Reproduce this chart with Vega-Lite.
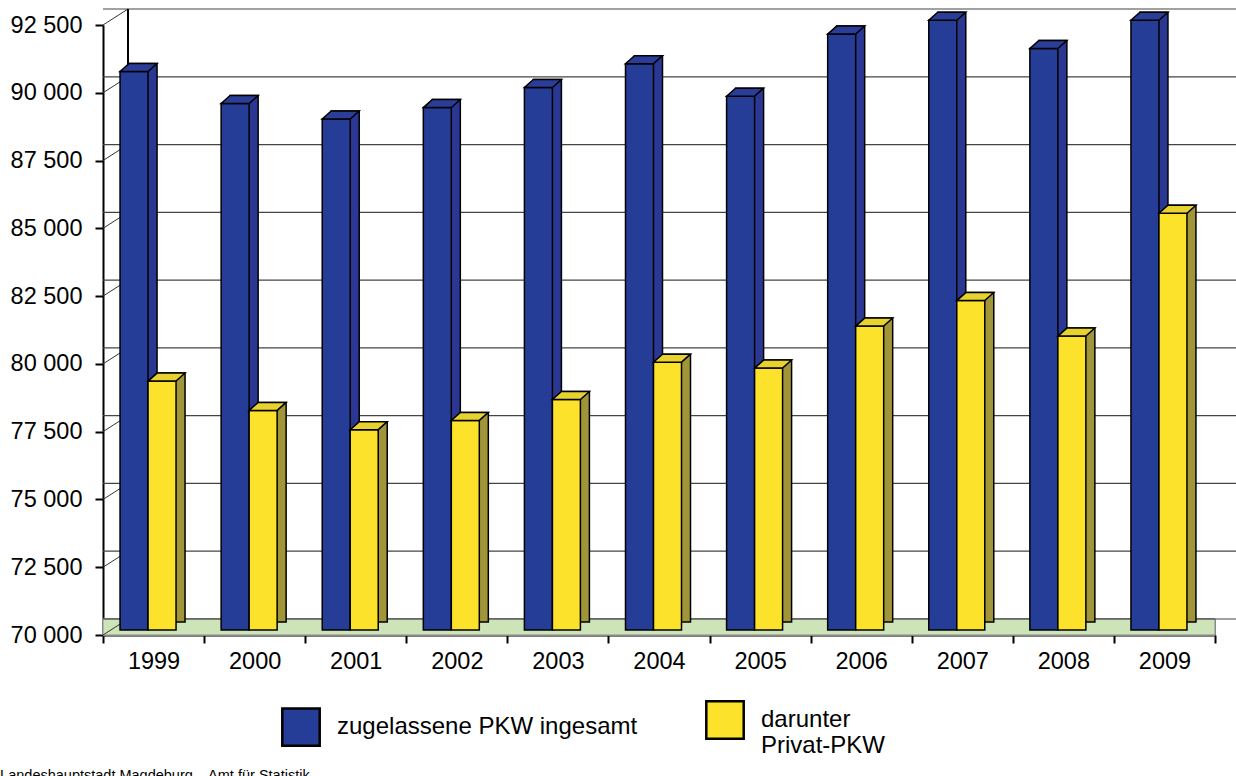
{
  "$schema": "https://vega.github.io/schema/vega-lite/v6.json",
  "width": 1112,
  "height": 610,
  "autosize": {"type": "none"},
  "padding": {"left": 103, "top": 25, "right": 21, "bottom": 141},
  "background": "white",
  "config": {
    "view": {"stroke": null},
    "font": "Liberation Sans",
    "axis": {"labelFont": "Liberation Sans", "labelColor": "black", "tickColor": "black", "domainColor": "black"}
  },
  "title": {
    "text": "Landeshauptstadt Magdeburg – Amt für Statistik",
    "orient": "bottom",
    "anchor": "start",
    "fontSize": 14.5,
    "fontWeight": "normal",
    "font": "Liberation Sans",
    "color": "black",
    "dx": -10,
    "offset": 11
  },
  "datasets": {
    "pkw": [
      {"year": "1999", "series": "zugelassene PKW ingesamt", "value": 90600},
      {"year": "2000", "series": "zugelassene PKW ingesamt", "value": 89420},
      {"year": "2001", "series": "zugelassene PKW ingesamt", "value": 88850},
      {"year": "2002", "series": "zugelassene PKW ingesamt", "value": 89270},
      {"year": "2003", "series": "zugelassene PKW ingesamt", "value": 90010},
      {"year": "2004", "series": "zugelassene PKW ingesamt", "value": 90890},
      {"year": "2005", "series": "zugelassene PKW ingesamt", "value": 89690},
      {"year": "2006", "series": "zugelassene PKW ingesamt", "value": 91980},
      {"year": "2007", "series": "zugelassene PKW ingesamt", "value": 92490},
      {"year": "2008", "series": "zugelassene PKW ingesamt", "value": 91450},
      {"year": "2009", "series": "zugelassene PKW ingesamt", "value": 92490},
      {"year": "1999", "series": "darunter Privat-PKW", "value": 79180},
      {"year": "2000", "series": "darunter Privat-PKW", "value": 78100},
      {"year": "2001", "series": "darunter Privat-PKW", "value": 77390},
      {"year": "2002", "series": "darunter Privat-PKW", "value": 77730},
      {"year": "2003", "series": "darunter Privat-PKW", "value": 78500},
      {"year": "2004", "series": "darunter Privat-PKW", "value": 79880},
      {"year": "2005", "series": "darunter Privat-PKW", "value": 79660},
      {"year": "2006", "series": "darunter Privat-PKW", "value": 81210},
      {"year": "2007", "series": "darunter Privat-PKW", "value": 82150},
      {"year": "2008", "series": "darunter Privat-PKW", "value": 80840},
      {"year": "2009", "series": "darunter Privat-PKW", "value": 85370}
    ],
    "grid": [
      {"v": 70000}, {"v": 72500}, {"v": 75000}, {"v": 77500}, {"v": 80000},
      {"v": 82500}, {"v": 85000}, {"v": 87500}, {"v": 90000}, {"v": 92500}
    ]
  },
  "data": {"name": "pkw"},
  "layer": [
    {
      "mark": {"type": "rect", "fill": "#CCE4B8", "stroke": "#8a8a8a", "strokeWidth": 1, "x2Offset": 10},
      "encoding": {
        "y": {"datum": 70000, "type": "quantitative", "title": null},
        "y2": {"datum": 70590}
      }
    },
    {
      "data": {"name": "grid"},
      "mark": {"type": "rule", "color": "#444444", "strokeWidth": 1.2, "xOffset": 25, "x2Offset": 130, "yOffset": -16},
      "encoding": {
        "y": {"field": "v", "type": "quantitative", "title": null}
      }
    },
    {
      "data": {"name": "grid"},
      "mark": {"type": "rule", "color": "#333333", "strokeWidth": 1, "x2Offset": -25.5, "y2Offset": -16},
      "encoding": {
        "x": {"datum": "1999", "type": "nominal", "bandPosition": 0, "title": null},
        "x2": {"datum": "1999"},
        "y": {"field": "v", "type": "quantitative", "title": null},
        "y2": {"field": "v"}
      }
    },
    {
      "mark": {"type": "rule", "color": "black", "strokeWidth": 1.5, "xOffset": 25, "yOffset": -16, "y2Offset": -16},
      "encoding": {
        "x": {"datum": "1999", "type": "nominal", "bandPosition": 0, "title": null},
        "y": {"datum": 70000, "type": "quantitative", "title": null},
        "y2": {"datum": 92500}
      }
    },
    {
      "transform": [{"filter": "datum.series == 'zugelassene PKW ingesamt'"}],
      "mark": {"type": "bar", "width": 28, "fill": "#2B3893", "stroke": "black", "strokeWidth": 1.5, "xOffset": -10.5, "yOffset": -13, "y2Offset": -13},
      "encoding": {
        "x": {"field": "year", "type": "nominal", "title": null},
        "y": {"field": "value", "type": "quantitative", "title": null},
        "y2": {"datum": 70000}
      }
    },
    {
      "transform": [{"filter": "datum.series == 'zugelassene PKW ingesamt'"}],
      "mark": {"type": "bar", "width": 28, "stroke": "black", "strokeWidth": 1.5, "xOffset": -19.5, "yOffset": -5, "y2Offset": -5},
      "encoding": {
        "x": {
          "field": "year", "type": "nominal", "title": null,
          "scale": {"paddingInner": 0, "paddingOuter": 0},
          "axis": {"labelAngle": 0, "labelAlign": "center", "tickBand": "extent", "labelFontSize": 23.5, "tickSize": 8, "tickWidth": 2, "domainWidth": 2, "labelPadding": 18, "grid": false}
        },
        "y": {
          "field": "value", "type": "quantitative", "title": null,
          "scale": {"domain": [70000, 92500], "zero": false, "nice": false},
          "axis": {
            "values": [70000, 72500, 75000, 77500, 80000, 82500, 85000, 87500, 90000, 92500],
            "labelExpr": "replace(format(datum.value, ','), ',', ' ')",
            "labelFontSize": 23.5, "tickSize": 8, "tickWidth": 2, "domainWidth": 2, "labelPadding": 13, "grid": false
          }
        },
        "y2": {"datum": 70000},
        "fill": {
          "field": "series", "type": "nominal",
          "scale": {"domain": ["zugelassene PKW ingesamt", "darunter Privat-PKW"], "range": ["#253D96", "#FCE22B"]},
          "legend": {
            "orient": "none", "legendX": 178, "legendY": 675, "direction": "horizontal", "title": null,
            "symbolType": "square", "symbolSize": 1400, "symbolStrokeColor": "black", "symbolStrokeWidth": 2.5,
            "labelFontSize": 24, "labelFont": "Liberation Sans", "labelColor": "black", "labelOffset": 16,
            "columnPadding": 63, "labelLimit": 0, "padding": 0,
            "labelExpr": "datum.label == 'darunter Privat-PKW' ? ['darunter', 'Privat-PKW'] : datum.label"
          }
        }
      }
    },
    {
      "transform": [{"filter": "datum.series == 'zugelassene PKW ingesamt'"}],
      "mark": {"type": "point", "shape": "M-14,0L14,0L23,-8L-5,-8Z", "size": 4, "filled": true, "opacity": 1, "fill": "#2A3E98", "stroke": "black", "strokeWidth": 1.5, "xOffset": -19.5, "yOffset": -5},
      "encoding": {
        "x": {"field": "year", "type": "nominal", "title": null},
        "y": {"field": "value", "type": "quantitative", "title": null}
      }
    },
    {
      "transform": [{"filter": "datum.series == 'darunter Privat-PKW'"}],
      "mark": {"type": "bar", "width": 28, "fill": "#A1953A", "stroke": "black", "strokeWidth": 1.5, "xOffset": 17.5, "yOffset": -13, "y2Offset": -13},
      "encoding": {
        "x": {"field": "year", "type": "nominal", "title": null},
        "y": {"field": "value", "type": "quantitative", "title": null},
        "y2": {"datum": 70000}
      }
    },
    {
      "transform": [{"filter": "datum.series == 'darunter Privat-PKW'"}],
      "mark": {"type": "bar", "width": 28, "stroke": "black", "strokeWidth": 1.5, "xOffset": 8.5, "yOffset": -5, "y2Offset": -5},
      "encoding": {
        "x": {"field": "year", "type": "nominal", "title": null},
        "y": {"field": "value", "type": "quantitative", "title": null},
        "y2": {"datum": 70000},
        "fill": {"field": "series", "type": "nominal"}
      }
    },
    {
      "transform": [{"filter": "datum.series == 'darunter Privat-PKW'"}],
      "mark": {"type": "point", "shape": "M-14,0L14,0L23,-8L-5,-8Z", "size": 4, "filled": true, "opacity": 1, "fill": "#E8D230", "stroke": "black", "strokeWidth": 1.5, "xOffset": 8.5, "yOffset": -5},
      "encoding": {
        "x": {"field": "year", "type": "nominal", "title": null},
        "y": {"field": "value", "type": "quantitative", "title": null}
      }
    }
  ]
}
